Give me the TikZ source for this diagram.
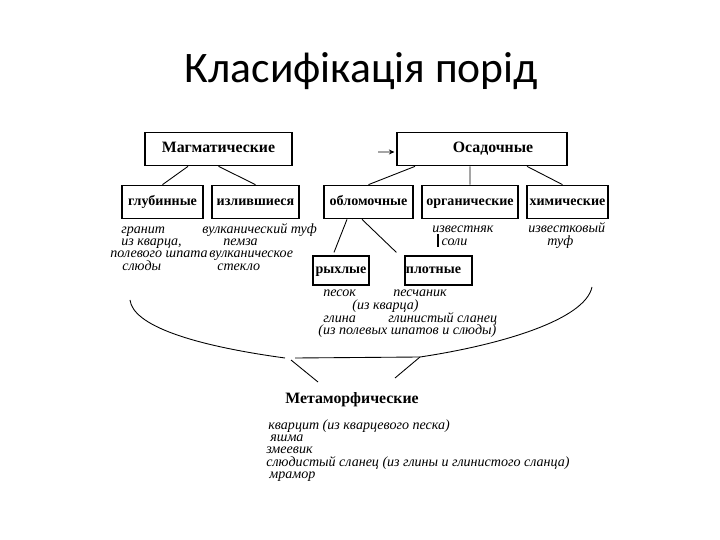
\documentclass[tikz,border=0pt]{standalone}
\usepackage{fontspec}
\setmainfont{Liberation Serif}
\newfontfamily\titlefont{Carlito}
\usepackage{tikz}
\usetikzlibrary{arrows.meta,positioning}
\tikzset{
  rockbox/.style  = {draw, line width=0.7pt, inner sep=0pt, align=center,
                     font=\fontsize{9}{10}\selectfont\bfseries,
                     text height=6.3pt, text depth=1.9pt,
                     minimum height=0.67cm},
  kindbox/.style  = {rockbox, font=\fontsize{8}{9}\selectfont\bfseries,
                     text height=5.6pt, text depth=1.7pt},
  subbox/.style   = {kindbox, minimum height=0.58cm},
  heading/.style  = {inner sep=0pt, anchor=base west,
                     font=\fontsize{9}{10}\selectfont\bfseries},
  txt/.style      = {inner sep=0pt, anchor=base west,
                     font=\fontsize{8}{9}\selectfont\itshape},
  link/.style     = {draw, line width=0.5pt},
}
\begin{document}
\begin{tikzpicture}[x=0.02cm, y=-0.02cm]
  \useasboundingbox (0,0) rectangle (720,540);

  \node[anchor=base, inner sep=0pt, font=\titlefont\fontsize{24.8}{28}\selectfont]
    (title) at (361.5,83) {Класифікація порід};

  \node[rockbox, minimum width=2.94cm] (mag)  at (218.5,149) {Магматические};
  \node[rockbox, minimum width=3.40cm] (osad) at (482,149)
    {\hspace*{0.44cm}Осадочные};

  \node[kindbox, minimum width=1.62cm] (glub)  at (162.5,202) {глубинные};
  \node[kindbox, minimum width=1.74cm] (izl)   at (255.5,202) {излившиеся};
  \node[kindbox, minimum width=1.78cm] (oblom) at (368.5,202) {обломочные};
  \node[kindbox, minimum width=1.92cm] (org)   at (470,202)   {органические};
  \node[kindbox, minimum width=1.62cm] (him)   at (567.5,202) {химические};

  \node[subbox, minimum width=1.12cm] (ryh)  at (341,270.5)   {рыхлые};
  \node[subbox, minimum width=1.34cm] (plot) at (438.5,270.5)
    {плотные\hspace*{0.2cm}};

  % small arrow in front of the sedimentary box
  \coordinate (arrstart) at (378,152);
  \draw[link, -{Stealth[length=1.1mm,width=1mm]}] (arrstart) --
    ([xshift=-0.04cm,yshift=-0.06cm]osad.west);

  \draw[link] ([xshift=-0.61cm]mag.south) -- (glub.north);
  \draw[link] (mag.south) -- (izl.north);
  \draw[link] ([xshift=-1.34cm]osad.south) -- (oblom.north);
  \draw[link] ([xshift=-0.24cm]osad.south) -- (org.north);
  \draw[link] ([xshift=0.90cm]osad.south) -- ([xshift=-0.1cm]him.north);
  \draw[link] ([xshift=-0.43cm]oblom.south) --
    ([xshift=-0.14cm,yshift=0.06cm]ryh.north);
  \draw[link] ([xshift=-0.13cm]oblom.south) --
    ([xshift=-0.16cm,yshift=0.06cm]plot.north west);

  \node[txt] (g1) at (121,234) {гранит};
  \node[txt] (g2) at (121,246) {из кварца,};
  \node[txt] (g3) at (110,258) {полевого шпата};
  \node[txt] (g4) at (122,271) {слюды};
  \node[txt] (v1) at (202,234) {вулканический туф};
  \node[txt] (v2) at (223,246) {пемза};
  \node[txt] (v3) at (209,258) {вулканическое};
  \node[txt] (v4) at (217,271) {стекло};

  \node[txt] (o1) at (432,233) {известняк};
  \node[txt] (o2) at (437,246) {\rule[-0.3pt]{1.1pt}{7pt}\,соли};
  \node[txt] (h1) at (528,233) {известковый};
  \node[txt] (h2) at (547,246) {туф};

  \node[txt] (r1) at (323,297) {песок};
  \node[txt] (r2) at (393,297) {песчаник};
  \node[txt] (r3) at (352,310) {(из кварца)};
  \node[txt] (r4) at (323,323) {глина};
  \node[txt] (r5) at (388,323) {глинистый сланец};
  \node[txt] (r6) at (318,335) {(из полевых шпатов и слюды)};

  % brace gathering all groups towards the metamorphic rocks
  \coordinate (bl)  at (130,300);
  \coordinate (bm1) at (285,358);
  \coordinate (bm2) at (295,358);
  \coordinate (bm3) at (420,357);
  \coordinate (br)  at (592,287);
  \coordinate (bj)  at (291,360);
  \coordinate (ml)  at (318,382);
  \coordinate (mr)  at (395,378);
  \draw[link] (bl) .. controls (133,325) and (190,345) .. (bm1);
  \draw[link] (bm2) -- (bm3) .. controls (500,345) and (585,320) .. (br);
  \draw[link] (bj) -- (ml);
  \draw[link] (bm3) -- (mr);

  \node[heading] (meta) at (285,403) {Метаморфические};
  \node[txt] (m1) at (268,429) {кварцит (из кварцевого песка)};
  \node[txt] (m2) at (270,441) {яшма};
  \node[txt] (m3) at (266,453) {змеевик};
  \node[txt] (m4) at (266,466) {слюдистый сланец (из глины и глинистого сланца)};
  \node[txt] (m5) at (269,478) {мрамор};

\end{tikzpicture}
\end{document}
